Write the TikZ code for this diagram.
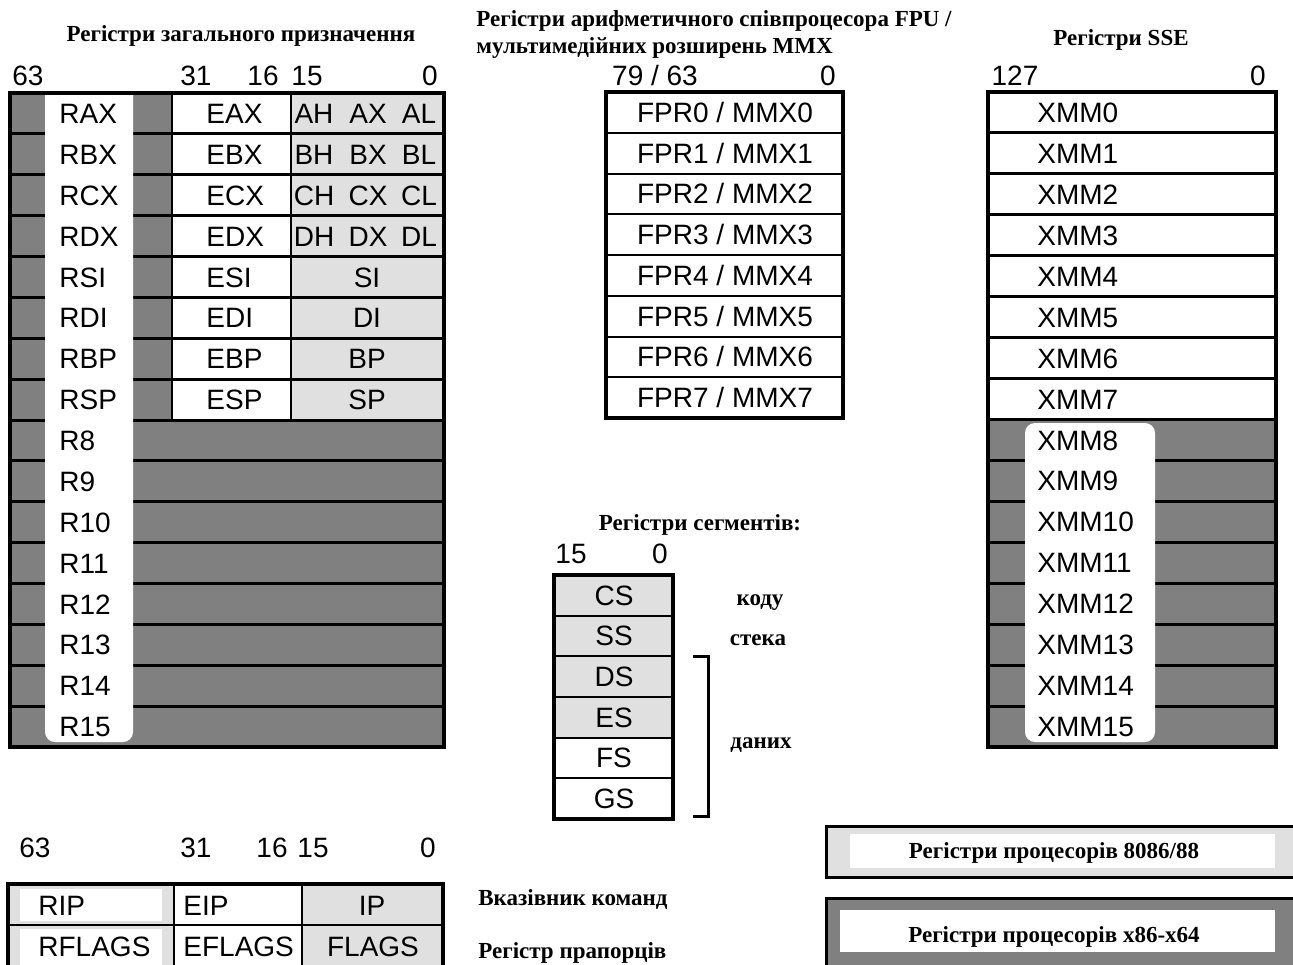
\documentclass[tikz,border=0pt]{standalone}
\usepackage{fontspec}
\setmainfont{Liberation Serif}
\setsansfont{Liberation Sans}
\usetikzlibrary{positioning}
\definecolor{oldreg}{gray}{0.88}
\definecolor{newreg}{gray}{0.5}
\newcommand{\regfont}{\sffamily\fontsize{14}{16}\selectfont}
\newcommand{\capfont}{\rmfamily\bfseries\fontsize{11.5}{13}\selectfont}
\tikzset{
  reg/.style={font=\regfont,inner sep=0pt,text height=10pt,text depth=0pt},
  capt/.style={font=\capfont,inner sep=0pt,text height=8pt,text depth=0pt},
  frame/.style={draw=black,line width=2pt},
  sep/.style={draw=black,line width=1pt},
  rowsep/.style={draw=black,line width=1.5pt},
}
\begin{document}
\begin{tikzpicture}[x=0.5pt,y=-0.5pt]
  \useasboundingbox (0,0) rectangle (1293,964);
  % titles
  \node[capt] (gprtitle) at (241,33) {Регістри загального призначення};
  \node[capt,anchor=west] (fputitle) at (476,18) {Регістри арифметичного співпроцесора FPU /};
  \node[capt,anchor=west] (mmxtitle) at (476,45) {мультимедійних розширень MMX};
  \node[capt] (ssetitle) at (1121,37) {Регістри SSE};
  \node[capt] (segtitle) at (700,522) {Регістри сегментів:};

  % bit numbers
  \foreach \b/\x in {63/28,31/196,16/263,15/307,0/430}
    \node[reg] (gprbit\b) at (\x,75) {\b};
  \node[reg] (fpubit79) at (655,75) {79 / 63};
  \node[reg] (fpubit0) at (828,75) {0};
  \node[reg] (ssebit127) at (1015,75) {127};
  \node[reg] (ssebit0) at (1258,75) {0};
  \node[reg] (segbit15) at (571,553) {15};
  \node[reg] (segbit0) at (660,553) {0};
  \foreach \b/\x in {63/35,31/196,16/272,15/313,0/428}
    \node[reg] (ipbit\b) at (\x,847) {\b};

  % general purpose registers
  \fill[newreg] (10,93) rectangle (444,747);
  \foreach \i in {0,...,7} {
    \fill[white] (172,93+40.875*\i) rectangle (291,133.875+40.875*\i);
    \fill[oldreg] (291,93+40.875*\i) rectangle (442,133.875+40.875*\i);
  }
  \foreach \i in {1,...,15}
    \draw[rowsep] (10,93+40.875*\i) -- (444,93+40.875*\i);
  \draw[sep] (172,93) -- (172,420) (291,93) -- (291,420);
  \fill[white,rounded corners=5pt] (45,80) rectangle (133,742);
  \draw[frame] (10,93) rectangle (444,747);
  \foreach \r/\e [count=\i from 0] in {RAX/EAX,RBX/EBX,RCX/ECX,RDX/EDX,RSI/ESI,RDI/EDI,RBP/EBP,RSP/ESP} {
    \node[reg,anchor=west] (\r) at (59,113.5+40.875*\i) {\r};
    \node[reg,anchor=west] (\e) at (206,113.5+40.875*\i) {\e};
  }
  \foreach \h/\x/\l [count=\i from 0] in {AH/AX/AL,BH/BX/BL,CH/CX/CL,DH/DX/DL} {
    \node[reg] (\h) at (314,113.5+40.875*\i) {\h};
    \node[reg] (\x) at (368,113.5+40.875*\i) {\x};
    \node[reg] (\l) at (419,113.5+40.875*\i) {\l};
  }
  \foreach \r [count=\i from 4] in {SI,DI,BP,SP}
    \node[reg] (\r) at (367,113.5+40.875*\i) {\r};
  \foreach \i in {8,...,15}
    \node[reg,anchor=west] (R\i) at (59,113.5+40.875*\i) {R\i};

  % FPU / MMX
  \foreach \i in {1,...,7}
    \draw[sep] (606,92+40.75*\i) -- (843,92+40.75*\i);
  \draw[frame] (606,92) rectangle (843,418);
  \foreach \i in {0,...,7}
    \node[reg] (FPR\i) at (725,112.4+40.75*\i) {FPR\i\ / MMX\i};

  % SSE
  \fill[newreg] (988,420) rectangle (1276,747);
  \foreach \i in {1,...,15}
    \draw[rowsep] (988,92+40.94*\i) -- (1276,92+40.94*\i);
  \fill[white,rounded corners=5pt] (1025,423) rectangle (1155,742);
  \draw[frame] (988,92) rectangle (1276,747);
  \foreach \i in {0,...,15}
    \node[reg,anchor=west] (XMM\i) at (1037,112.5+40.94*\i) {XMM\i};

  % segment registers
  \fill[oldreg] (554,575) rectangle (673,737.7);
  \foreach \i in {1,...,5}
    \draw[sep] (554,575+40.67*\i) -- (673,575+40.67*\i);
  \draw[frame] (554,575) rectangle (673,819);
  \foreach \s [count=\i from 0] in {CS,SS,DS,ES,FS,GS}
    \node[reg] (\s) at (614,595.3+40.67*\i) {\s};
  \draw[rowsep] (693,656) -- (708,656) -- (708,816) -- (693,816);
  \node[capt] (code) at (760,597) {коду};
  \node[capt] (stack) at (758,637) {стека};
  \node[capt] (data) at (761,740) {даних};

  % instruction pointer and flags
  \fill[oldreg] (8,884) rectangle (174,966);
  \fill[white] (20,889) rectangle (162,921);
  \fill[white] (20,929) rectangle (162,966);
  \fill[oldreg] (302,884) rectangle (443,966);
  \draw[sep] (8,925) -- (443,925);
  \draw[sep] (174,884) -- (174,966) (302,884) -- (302,966);
  \draw[frame] (8,966) -- (8,884) -- (443,884) -- (443,966);
  \node[reg,anchor=west] (RIP) at (38,905) {RIP};
  \node[reg,anchor=west] (EIP) at (183,905) {EIP};
  \node[reg] (IP) at (372,905) {IP};
  \node[reg,anchor=west] (RFLAGS) at (38,946) {RFLAGS};
  \node[reg,anchor=west] (EFLAGS) at (183,946) {EFLAGS};
  \node[reg] (FLAGS) at (373,946) {FLAGS};
  \node[capt,anchor=west] (ipcap) at (478,897) {Вказівник команд};
  \node[capt,anchor=west] (flagscap) at (478,950) {Регістр прапорців};

  % legend
  \fill[oldreg] (826,826) rectangle (1293,877);
  \fill[white] (850,834) rectangle (1275,868);
  \draw[line width=1.5pt] (1293,826) -- (826,826) -- (826,877) -- (1293,877);
  \node[capt] (leg8086) at (1054,850) {Регістри процесорів 8086/88};
  \fill[newreg] (826,898) rectangle (1293,966);
  \fill[white] (840,910) rectangle (1275,952);
  \draw[line width=1.5pt] (1293,898) -- (826,898) -- (826,966);
  \node[capt] (legx64) at (1054,934) {Регістри процесорів x86-x64};
\end{tikzpicture}
\end{document}
